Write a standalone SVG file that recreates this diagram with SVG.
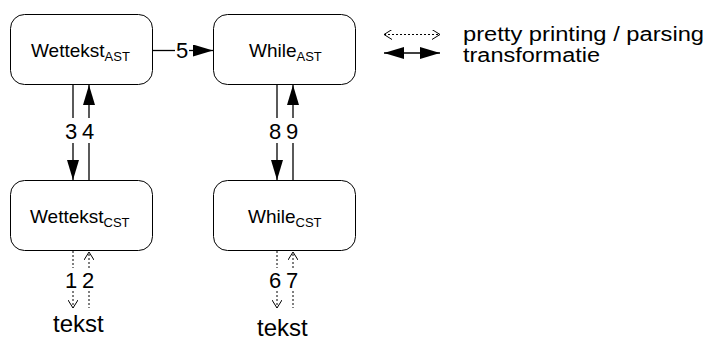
<svg xmlns="http://www.w3.org/2000/svg" width="707" height="340" viewBox="0 0 707 340">
  <style>
    .box { fill: #fff; stroke: #000; stroke-width: 1; }
    .lbl { font-family: "Liberation Sans", Arial, sans-serif; font-size: 19px; fill: #000; }
    .sub { font-size: 13px; }
    .num { font-family: "Liberation Sans", Arial, sans-serif; font-size: 22px; fill: #000; text-anchor: middle; }
    .big { font-family: "Liberation Sans", Arial, sans-serif; font-size: 24px; fill: #000; }
    .leg { font-family: "Liberation Sans", Arial, sans-serif; font-size: 20px; fill: #000; }
    .solid { stroke: #000; stroke-width: 1.3; fill: none; }
    .dot { stroke: #000; stroke-width: 1; fill: none; stroke-dasharray: 2 2; }
  </style>
  <defs>
    <marker id="head" viewBox="0 0 20 12" refX="20" refY="6" markerWidth="20" markerHeight="12" markerUnits="userSpaceOnUse" orient="auto-start-reverse">
      <path d="M0,0 L20,6 L0,12 z" fill="#000"/>
    </marker>
    <marker id="open" viewBox="0 0 8 10" refX="8" refY="5" markerWidth="8" markerHeight="10" markerUnits="userSpaceOnUse" orient="auto-start-reverse">
      <path d="M0,0 L8,5 L0,10" fill="none" stroke="#000" stroke-width="1"/>
    </marker>
  </defs>

  <!-- nodes -->
  <g id="wettekst-ast">
    <rect class="box" x="10.5" y="14.5" width="142" height="70" rx="14"/>
    <text class="lbl" x="31" y="57">Wettekst<tspan class="sub" dy="4">AST</tspan></text>
  </g>
  <g id="while-ast">
    <rect class="box" x="213.5" y="14.5" width="142" height="70" rx="14"/>
    <text class="lbl" x="249" y="57">While<tspan class="sub" dy="4">AST</tspan></text>
  </g>
  <g id="wettekst-cst">
    <rect class="box" x="10.5" y="180.5" width="142" height="70" rx="14"/>
    <text class="lbl" x="30" y="223">Wettekst<tspan class="sub" dy="4">CST</tspan></text>
  </g>
  <g id="while-cst">
    <rect class="box" x="213.5" y="180.5" width="142" height="70" rx="14"/>
    <text class="lbl" x="248" y="223">While<tspan class="sub" dy="4">CST</tspan></text>
  </g>

  <!-- connectors -->
  <g id="connectors">
    <!-- 5: Wettekst AST to While AST -->
    <line class="solid" x1="152" y1="50.5" x2="175" y2="50.5"/>
    <line class="solid" x1="189" y1="50.5" x2="213" y2="50.5" marker-end="url(#head)"/>
    <text class="num" x="182" y="58">5</text>

    <!-- 3 / 4 -->
    <line class="solid" x1="73" y1="85" x2="73" y2="118"/>
    <line class="solid" x1="73" y1="143" x2="73" y2="180" marker-end="url(#head)"/>
    <line class="solid" x1="89" y1="118" x2="89" y2="85" marker-end="url(#head)"/>
    <line class="solid" x1="89" y1="143" x2="89" y2="180"/>
    <text class="num" x="71" y="139">3</text>
    <text class="num" x="88" y="139">4</text>

    <!-- 8 / 9 -->
    <line class="solid" x1="277" y1="85" x2="277" y2="118"/>
    <line class="solid" x1="277" y1="143" x2="277" y2="180" marker-end="url(#head)"/>
    <line class="solid" x1="293" y1="118" x2="293" y2="85" marker-end="url(#head)"/>
    <line class="solid" x1="293" y1="143" x2="293" y2="180"/>
    <text class="num" x="275" y="139">8</text>
    <text class="num" x="292" y="139">9</text>

    <!-- 1 / 2 -->
    <line class="dot" x1="73" y1="251" x2="73" y2="268"/>
    <line class="dot" x1="73" y1="291" x2="73" y2="308" marker-end="url(#open)"/>
    <line class="dot" x1="89" y1="268" x2="89" y2="252" marker-end="url(#open)"/>
    <line class="dot" x1="89" y1="291" x2="89" y2="308"/>
    <text class="num" x="71" y="288">1</text>
    <text class="num" x="88" y="288">2</text>
    <text class="big" x="53" y="332">tekst</text>

    <!-- 6 / 7 -->
    <line class="dot" x1="277" y1="251" x2="277" y2="268"/>
    <line class="dot" x1="277" y1="291" x2="277" y2="308" marker-end="url(#open)"/>
    <line class="dot" x1="293" y1="268" x2="293" y2="252" marker-end="url(#open)"/>
    <line class="dot" x1="293" y1="291" x2="293" y2="308"/>
    <text class="num" x="275" y="288">6</text>
    <text class="num" x="292" y="288">7</text>
    <text class="big" x="257" y="336">tekst</text>
  </g>

  <!-- legend -->
  <g id="legend">
    <line class="dot" x1="384" y1="34.5" x2="440" y2="34.5" marker-start="url(#open)" marker-end="url(#open)"/>
    <text class="leg" x="463" y="41" textLength="241" lengthAdjust="spacingAndGlyphs">pretty printing / parsing</text>
    <line class="solid" x1="384" y1="53" x2="440" y2="53" marker-start="url(#head)" marker-end="url(#head)"/>
    <text class="leg" x="463" y="62" textLength="137" lengthAdjust="spacingAndGlyphs">transformatie</text>
  </g>
</svg>
